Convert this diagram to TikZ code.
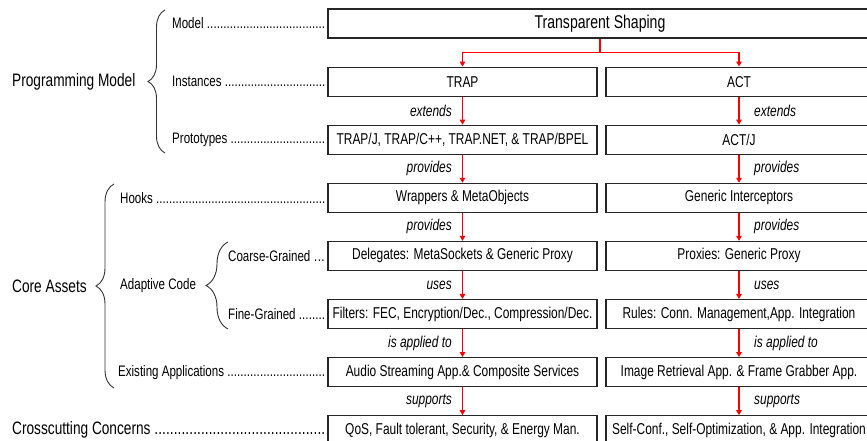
\documentclass[tikz,border=0pt]{standalone}
\usepackage{fontspec}
\setmainfont[FakeStretch=0.76]{Liberation Sans}
\usetikzlibrary{arrows.meta,decorations.pathreplacing}

% dense dot leader used after the row names
\newcommand\dotlead{\xleaders\hbox{.}\hfill}
\newcommand\bigfont{\fontsize{18}{22}\selectfont}
\newcommand\boxfont{\fontsize{15.7}{19}\selectfont}
\newcommand\tsfont{\fontsize{18.5}{22}\selectfont}
\newcommand\labfont{\fontsize{15.2}{18}\selectfont}

\tikzset{
  box/.style={draw=black!85, line width=1.1pt, minimum height=29pt, inner sep=0pt, font=\boxfont},
  lbox/.style={box, minimum width=269pt},
  rbox/.style={box, minimum width=266pt},
  flow/.style={red, line width=1.4pt, -{Triangle[length=5pt,width=5.5pt]}},
  trunk/.style={red, line width=1.4pt},
  rel/.style={font=\boxfont\itshape, inner sep=0pt},
  lab/.style={font=\labfont, inner sep=0pt, anchor=west},
  biglab/.style={font=\bigfont, inner sep=0pt, anchor=west},
  curly/.style={decorate, draw=black!80, line width=0.9pt},
}

\begin{document}
\begin{tikzpicture}[x=1pt,y=-1pt]
\useasboundingbox (0,0) rectangle (867,441);
\clip (0,0) rectangle (867,441);

% ---- boxes -------------------------------------------------------
\node[box, minimum width=544pt, font=\tsfont] (ts) at (600,23.5) {Transparent Shaping};

\node[lbox] (trap)  at (462.5,81.6)  {TRAP};
\node[lbox] (trapp) at (462.5,139.7) {TRAP/J, TRAP/C++, TRAP.NET, \& TRAP/BPEL};
\node[lbox] (wrap)  at (462.5,197.8) {Wrappers \& MetaObjects};
\node[lbox] (dele)  at (462.5,255.9) {Delegates: MetaSockets \& Generic Proxy};
\node[lbox] (filt)  at (462.5,314.0) {Filters: FEC, Encryption/Dec., Compression/Dec.};
\node[lbox] (audio) at (462.5,372.1) {Audio Streaming App.\& Composite Services};
\node[lbox] (qos)   at (462.5,430.2) {QoS, Fault tolerant, Security, \& Energy Man.};

\node[rbox] (act)   at (739,81.6)  {ACT};
\node[rbox] (actj)  at (739,139.7) {ACT/J};
\node[rbox] (gint)  at (739,197.8) {Generic Interceptors};
\node[rbox] (prox)  at (739,255.9) {Proxies: Generic Proxy};
\node[rbox] (rules) at (739,314.0) {Rules: Conn. Management,App. Integration};
\node[rbox] (image) at (739,372.1) {Image Retrieval App. \& Frame Grabber App.};
\node[rbox] (self)  at (739,430.2) {Self-Conf., Self-Optimization, \& App. Integration};

% ---- connectors --------------------------------------------------
\draw[trunk] (ts.south) -- ++(0,14) coordinate (split);
\draw[flow] (split) -| (trap.north);
\draw[flow] (split) -| (act.north);

\draw[flow] (trap.south)  -- (trapp.north);
\draw[flow] (trapp.south) -- (wrap.north);
\draw[flow] (wrap.south)  -- (dele.north);
\draw[flow] (dele.south)  -- (filt.north);
\draw[flow] (filt.south)  -- (audio.north);
\draw[flow] (audio.south) -- (qos.north);

\draw[flow] (act.south)   -- (actj.north);
\draw[flow] (actj.south)  -- (gint.north);
\draw[flow] (gint.south)  -- (prox.north);
\draw[flow] (prox.south)  -- (rules.north);
\draw[flow] (rules.south) -- (image.north);
\draw[flow] (image.south) -- (self.north);

% ---- connector labels --------------------------------------------
\node[rel, anchor=east] (le1) at (452,110.65) {extends};
\node[rel, anchor=east] (le2) at (452,168.75) {provides};
\node[rel, anchor=east] (le3) at (452,226.85) {provides};
\node[rel, anchor=east] (le4) at (452,284.95) {uses};
\node[rel, anchor=east] (le5) at (452,343.05) {is applied to};
\node[rel, anchor=east] (le6) at (452,401.15) {supports};

\node[rel, anchor=west] (re1) at (754,110.65) {extends};
\node[rel, anchor=west] (re2) at (754,168.75) {provides};
\node[rel, anchor=west] (re3) at (754,226.85) {provides};
\node[rel, anchor=west] (re4) at (754,284.95) {uses};
\node[rel, anchor=west] (re5) at (754,343.05) {is applied to};
\node[rel, anchor=west] (re6) at (754,401.15) {supports};

% ---- row names ---------------------------------------------------
\node[lab] (model) at (172,23.5)  {\makebox[153pt][l]{Model \dotlead}};
\node[lab] (inst)  at (172,81.6)  {\makebox[153pt][l]{Instances \dotlead}};
\node[lab] (proto) at (172,139.7) {\makebox[153pt][l]{Prototypes \dotlead}};
\node[lab] (hooks) at (120,197.8) {\makebox[205pt][l]{Hooks \dotlead}};
\node[lab] (coarse) at (228,255.9) {\makebox[97pt][l]{Coarse-Grained \dotlead}};
\node[lab] (fine)  at (228,314.0) {\makebox[97pt][l]{Fine-Grained \dotlead}};
\node[lab] (exist) at (118,372.1) {\makebox[207pt][l]{Existing Applications \dotlead}};
\node[lab] (adapt) at (120,286)   {Adaptive Code};

\node[biglab] (pm)   at (12,81.6)  {Programming Model};
\node[biglab] (core) at (12,286)   {Core Assets};
\node[biglab] (cross) at (12,430.2) {\makebox[313pt][l]{Crosscutting Concerns \dotlead}};

% ---- grouping braces ---------------------------------------------
\draw[curly, decoration={brace, amplitude=17pt}] (165,153) -- (165,10);
\draw[curly, decoration={brace, amplitude=18pt}] (114,388) -- (114,184);
\draw[curly, decoration={brace, amplitude=22pt}] (228,329) -- (228,242);
\end{tikzpicture}
\end{document}
